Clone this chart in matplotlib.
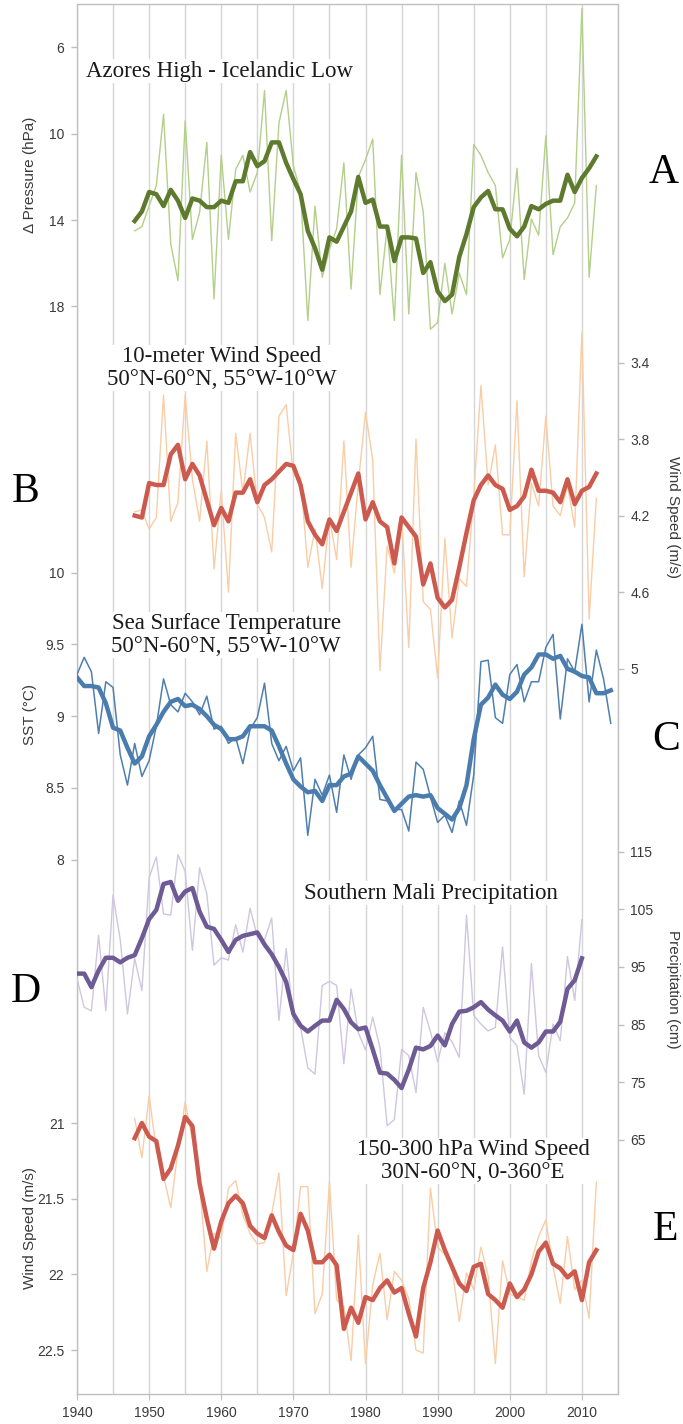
import matplotlib
matplotlib.use('Agg')
import matplotlib.pyplot as plt
from matplotlib.ticker import MultipleLocator

# ---- data ----
years_48 = list(range(1948, 2013))
years_sst = list(range(1940, 2015))
years_mali = list(range(1940, 2011))

# A: Azores High - Icelandic Low pressure difference (hPa)
slp_annual = [14.5, 14.3, 13.35, 12.4, 9.1, 15.1, 16.8, 9.4, 14.9, 13.65,
              10.4, 17.65, 11.0, 14.9, 11.65, 11.0, 12.7, 11.8, 8.0, 14.95,
              9.5, 8.0, 11.5, 12.7, 18.65, 13.35, 16.65, 15.35, 14.4, 11.35,
              17.2, 12.0, 11.2, 10.25, 17.45, 14.3, 18.65, 11.0, 18.35, 11.8,
              13.6, 19.05, 18.75, 16.0, 18.35, 16.45, 17.45, 10.5, 11.0, 11.8,
              12.4, 15.75, 14.9, 11.6, 16.75, 13.95, 14.7, 10.1, 15.6, 14.3,
              13.9, 13.2, 4.2, 16.65, 12.4]
slp_smooth = [14.04, 13.6, 12.7, 12.8, 13.35, 12.6, 13.1, 13.9, 13.0, 13.1,
              13.4, 13.4, 13.1, 13.2, 12.2, 12.2, 10.85, 11.5, 11.27, 10.4,
              10.4, 11.35, 12.1, 12.8, 14.5, 15.3, 16.3, 14.8, 15.0, 14.3,
              13.6, 12.0, 13.2, 13.05, 14.3, 14.3, 15.9, 14.8, 14.8, 14.85,
              16.45, 15.95, 17.3, 17.75, 17.45, 15.7, 14.65, 13.4, 12.95, 12.65,
              13.5, 13.5, 14.4, 14.75, 14.3, 13.35, 13.5, 13.25, 13.1, 13.1,
              11.9, 12.7, 12.05, 11.6, 11.05]

# B: 10-meter wind speed (m/s)
wind10_annual = [4.18, 4.17, 4.27, 4.21, 3.57, 4.23, 4.13, 3.57, 4.01, 4.23,
                 3.81, 4.48, 4.07, 4.60, 3.77, 4.08, 3.77, 4.14, 4.21, 4.39,
                 3.68, 3.62, 3.99, 4.00, 4.47, 4.27, 4.58, 4.21, 4.43, 3.81,
                 4.47, 4.03, 3.66, 3.91, 5.01, 4.36, 4.50, 4.20, 4.89, 3.80,
                 4.65, 4.69, 5.05, 4.32, 4.84, 4.53, 4.57, 4.10, 3.52, 4.04,
                 3.83, 4.30, 4.30, 3.60, 4.52, 4.03, 4.15, 3.68, 4.15, 4.20,
                 4.04, 4.26, 3.24, 4.74, 4.11]
wind10_smooth = [4.20, 4.21, 4.03, 4.04, 4.04, 3.88, 3.83, 4.01, 3.93, 3.99,
                 4.12, 4.25, 4.16, 4.23, 4.08, 4.08, 4.01, 4.13, 4.04, 4.01,
                 3.97, 3.93, 3.94, 4.04, 4.23, 4.30, 4.35, 4.22, 4.28, 4.18,
                 4.08, 3.98, 4.22, 4.13, 4.23, 4.26, 4.45, 4.21, 4.26, 4.31,
                 4.56, 4.45, 4.63, 4.68, 4.64, 4.47, 4.29, 4.12, 4.04, 3.99,
                 4.04, 4.06, 4.17, 4.15, 4.10, 3.96, 4.07, 4.07, 4.08, 4.13,
                 4.01, 4.14, 4.07, 4.05, 3.98]

# C: sea surface temperature (deg C)
sst_annual = [9.29, 9.41, 9.31, 8.88, 9.24, 9.20, 8.73, 8.52, 8.81, 8.58,
              8.69, 8.93, 9.26, 9.08, 9.03, 9.16, 9.10, 9.01, 9.14, 8.91,
              8.93, 8.81, 8.85, 8.67, 8.91, 8.99, 9.23, 8.81, 8.69, 8.79,
              8.62, 8.71, 8.17, 8.56, 8.45, 8.59, 8.33, 8.73, 8.56, 8.73,
              8.78, 8.86, 8.42, 8.41, 8.35, 8.35, 8.20, 8.68, 8.63, 8.44,
              8.26, 8.31, 8.19, 8.41, 8.24, 8.59, 9.38, 9.39, 8.99, 8.95,
              9.29, 9.36, 9.10, 9.24, 9.24, 9.48, 9.57, 8.98, 9.40, 9.31,
              9.64, 9.10, 9.46, 9.26, 8.95]
sst_smooth = [9.27, 9.21, 9.21, 9.20, 9.09, 8.92, 8.90, 8.78, 8.67, 8.72,
              8.86, 8.94, 9.03, 9.10, 9.12, 9.07, 9.08, 9.05, 9.00, 8.94,
              8.91, 8.84, 8.84, 8.86, 8.93, 8.93, 8.93, 8.90, 8.79, 8.67,
              8.56, 8.51, 8.47, 8.48, 8.41, 8.52, 8.52, 8.58, 8.60, 8.72,
              8.67, 8.62, 8.52, 8.43, 8.34, 8.39, 8.44, 8.45, 8.44, 8.45,
              8.36, 8.32, 8.28, 8.36, 8.52, 8.84, 9.08, 9.13, 9.22, 9.15,
              9.12, 9.17, 9.29, 9.34, 9.43, 9.43, 9.40, 9.42, 9.33, 9.31,
              9.28, 9.27, 9.16, 9.16, 9.18]

# D: southern Mali precipitation (cm)
mali_annual = [93.0, 88.0, 87.4, 100.5, 87.4, 107.5, 99.7, 86.85, 96.5, 90.9,
               110.5, 114.1, 104.2, 104.0, 114.5, 111.6, 97.9, 112.2, 107.7, 95.3,
               96.6, 96.2, 102.3, 97.6, 105.2, 100.3, 99.7, 103.5, 85.7, 98.2,
               85.7, 84.5, 77.5, 76.4, 91.8, 92.5, 91.8, 78.2, 91.2, 83.6,
               80.6, 86.3, 81.0, 67.45, 68.5, 80.7, 79.6, 73.2, 88.0, 83.8,
               78.5, 83.6, 82.0, 79.3, 104.0, 86.6, 85.1, 83.9, 84.5, 98.5,
               82.8, 81.3, 72.9, 95.6, 79.6, 76.7, 85.1, 82.2, 96.8, 89.2,
               103.2]
mali_smooth = [93.85, 93.85, 91.5, 94.4, 96.6, 96.6, 95.8, 96.6, 97.05, 100.0,
               103.3, 104.9, 109.4, 109.75, 106.5, 108.1, 108.7, 104.6, 102.0, 101.6,
               99.7, 97.6, 99.7, 100.4, 100.7, 101.0, 98.9, 97.2, 95.0, 92.4,
               86.85, 84.8, 83.8, 84.8, 85.7, 85.7, 89.3, 87.7, 85.4, 84.2,
               84.5, 80.7, 76.65, 76.5, 75.4, 74.0, 77.2, 81.0, 80.7, 81.3,
               83.1, 81.4, 85.1, 87.25, 87.4, 88.0, 88.9, 87.6, 86.6, 85.7,
               83.8, 85.7, 81.9, 81.0, 81.9, 83.8, 83.8, 85.5, 91.2, 92.7,
               96.5]

# E: 150-300 hPa wind speed (m/s)
jet_annual = [20.97, 21.23, 20.82, 21.18, 21.35, 21.56, 21.18, 20.86, 21.11, 21.40,
              21.98, 21.73, 21.76, 21.43, 21.38, 21.61, 21.73, 21.80, 21.79, 21.60,
              21.33, 22.14, 21.86, 21.42, 21.42, 22.26, 22.13, 21.39, 22.17, 22.21,
              22.57, 21.74, 22.59, 22.07, 21.86, 22.30, 21.98, 22.04, 22.16, 22.50,
              22.52, 21.43, 21.82, 21.87, 21.96, 22.31, 21.99, 22.10, 21.82, 22.01,
              22.59, 21.91, 22.13, 22.15, 22.17, 21.91, 21.75, 21.64, 21.95, 22.19,
              21.75, 22.10, 22.04, 22.29, 21.39]
jet_smooth = [21.10, 21.00, 21.09, 21.12, 21.37, 21.30, 21.15, 20.96, 21.02, 21.40,
              21.63, 21.83, 21.65, 21.53, 21.48, 21.53, 21.68, 21.73, 21.76, 21.61,
              21.72, 21.81, 21.84, 21.60, 21.71, 21.92, 21.92, 21.87, 21.94, 22.36,
              22.22, 22.32, 22.15, 22.17, 22.09, 22.04, 22.12, 22.09, 22.26, 22.41,
              22.09, 21.92, 21.71, 21.84, 21.95, 22.06, 22.11, 21.95, 21.93, 22.13,
              22.17, 22.22, 22.06, 22.15, 22.10, 22.00, 21.85, 21.79, 21.93, 21.96,
              22.02, 21.98, 22.17, 21.92, 21.84]

slp_ticks = [6, 10, 14, 18]
wind10_ticks = [3.4, 3.8, 4.2, 4.6, 5.0]
wind10_ticklabels = ['3.4', '3.8', '4.2', '4.6', '5']
sst_ticks = [8.0, 8.5, 9.0, 9.5, 10.0]
sst_ticklabels = ['8', '8.5', '9', '9.5', '10']
mali_ticks = [65, 75, 85, 95, 105, 115]
jet_ticks = [21.0, 21.5, 22.0, 22.5]
jet_ticklabels = ['21', '21.5', '22', '22.5']

FRAME = '#bfbfbf'
TXT = '#3a3a3a'
SANS = ['Liberation Sans', 'DejaVu Sans']
SERIF = ['Liberation Serif', 'DejaVu Serif']

plt.rcParams['font.family'] = SANS


def panel(ax, ylim, ticks, labels, side, ylabel, label_y):
    pa = ax.twinx()
    pa.set_ylim(*ylim)
    for s in pa.spines.values():
        s.set_visible(False)
    pa.xaxis.set_visible(False)
    pa.set_yticks(ticks)
    pa.set_yticklabels(labels)
    left = side == 'left'
    pa.yaxis.set_ticks_position(side)
    pa.tick_params(axis='y', direction='out', length=4, width=1, color=FRAME,
                   labelcolor=TXT, labelsize=10, pad=5,
                   left=left, right=not left, labelleft=left, labelright=not left)
    pa.set_ylabel(ylabel, fontsize=11, color=TXT, rotation=90 if left else 270)
    pa.yaxis.set_label_position(side)
    pa.yaxis.set_label_coords(-0.087 if left else 1.102, label_y)
    pa.yaxis.label.set_verticalalignment('center')
    pa.yaxis.label.set_horizontalalignment('center')
    return pa


fig = plt.figure(figsize=(6.83, 14.24), dpi=100)
ax = fig.add_axes([0.1127, 0.0211, 0.7921, 0.9758])
ax.set_xlim(1940, 2015)
ax.set_yticks([])
ax.xaxis.set_major_locator(MultipleLocator(10))
ax.xaxis.set_minor_locator(MultipleLocator(5))
ax.grid(True, axis='x', which='both', color='#d6d6d6', lw=1)
ax.tick_params(axis='x', which='major', direction='out', length=4, color=FRAME,
               labelcolor=TXT, labelsize=10, pad=5)
ax.tick_params(axis='x', which='minor', length=0)
for s in ax.spines.values():
    s.set_color(FRAME)
    s.set_linewidth(1)

# A
pa = panel(ax, (68.37, 4.01), slp_ticks, [str(t) for t in slp_ticks], 'left',
           '\u0394 Pressure (hPa)', 0.8776)
pa.plot(years_48, slp_annual, color='#b3cf8a', lw=1.0)
pa.plot(years_48, slp_smooth, color='#5e7a2e', lw=3.2)

# B
pb = panel(ax, (8.791, 1.528), wind10_ticks, wind10_ticklabels, 'right',
           'Wind Speed (m/s)', 0.6314)
pb.plot(years_48, wind10_annual, color='#f9cda6', lw=1.0)
pb.plot(years_48, wind10_smooth, color='#cc5a4e', lw=3.2)

# C
pc = panel(ax, (4.279, 13.958), sst_ticks, sst_ticklabels, 'left',
           'SST (\u00b0C)', 0.4888)
pc.plot(years_sst, sst_annual, color='#4f7fae', lw=1.1)
pc.plot(years_sst, sst_smooth, color='#4a7cae', lw=3.2)

# D
pd_ = panel(ax, (20.90, 262.05), mali_ticks, [str(t) for t in mali_ticks], 'right',
            'Precipitation (cm)', 0.2909)
pd_.plot(years_mali, mali_annual, color='#cfc6df', lw=1.0)
pd_.plot(years_mali, mali_smooth, color='#6e5a94', lw=3.2)

# E
pe = panel(ax, (22.79, 13.61), jet_ticks, jet_ticklabels, 'left',
           'Wind Speed (m/s)', 0.1195)
pe.plot(years_48, jet_annual, color='#f9cda6', lw=1.0)
pe.plot(years_48, jet_smooth, color='#cc5a4e', lw=3.2)

# panel titles
box = dict(facecolor='white', edgecolor='none', pad=1)
W, H = 683.0, 1424.0
titles = [
    ('Azores High - Icelandic Low', 220, 71),
    ('10-meter Wind Speed\n50\u00b0N-60\u00b0N, 55\u00b0W-10\u00b0W', 222, 368),
    ('Sea Surface Temperature\n50\u00b0N-60\u00b0N, 55\u00b0W-10\u00b0W', 226, 635),
    ('Southern Mali Precipitation', 431, 893),
    ('150-300 hPa Wind Speed\n30N-60\u00b0N, 0-360\u00b0E', 473, 1161),
]
for txt, x, y in titles:
    fig.text(x / W, 1 - y / H, txt, ha='center', va='center', fontsize=16.5,
             family=SERIF, color='#1a1a1a', linespacing=1.1, bbox=box, zorder=5)

letters = [('A', 664, 173), ('B', 26, 492), ('C', 666, 740), ('D', 26, 992), ('E', 666, 1230)]
for txt, x, y in letters:
    fig.text(x / W, 1 - y / H, txt, ha='center', va='center', fontsize=30,
             family=SERIF, color='black')

fig.savefig('out.png', dpi=100)
